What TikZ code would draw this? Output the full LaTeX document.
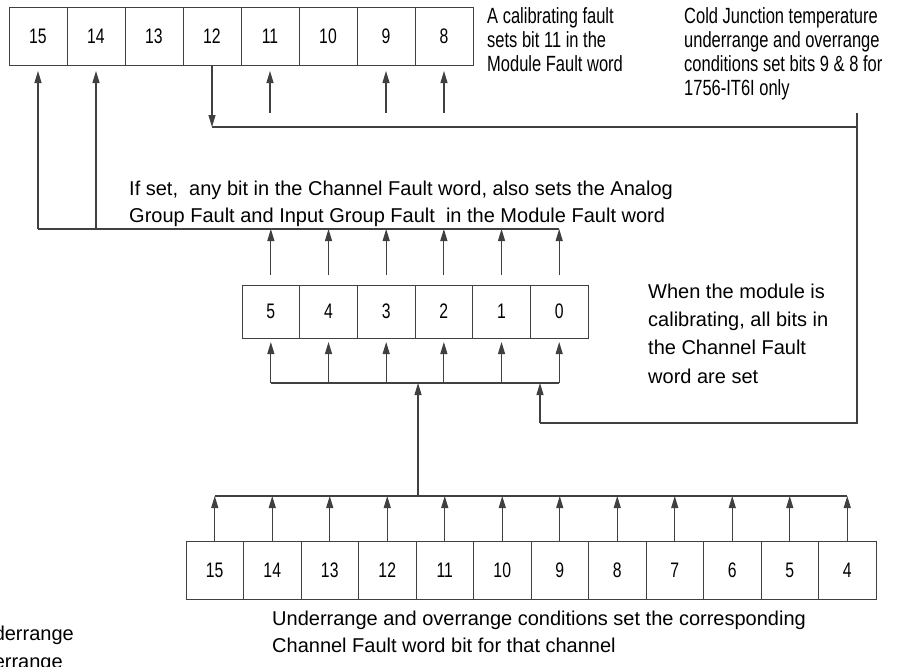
\documentclass[tikz,border=0pt]{standalone}
\usepackage{fontspec}
\setmainfont{Liberation Sans}
\newfontfamily\narrowfont{Liberation Sans}[FakeStretch=0.75]
\usetikzlibrary{arrows.meta, calc}

\begin{document}
\begin{tikzpicture}[
    x=1pt, y=-1pt,
    font=\fontsize{20}{27}\selectfont,
    line/.style={draw=black!75, line width=1.1pt},
    arr/.style={line, -{Triangle[length=12pt,width=7pt]}},
    cell/.style={rectangle, draw=black!75, line width=1pt, inner sep=0pt, outer sep=0pt, minimum width=58pt, minimum height=58pt, font=\narrowfont\fontsize{21}{24}\selectfont},
    midcell/.style={cell, minimum width=57.67pt, minimum height=53pt},
    botcell/.style={cell, minimum width=57.5pt},
    note/.style={anchor=north west, inner sep=0pt, align=left},
    topnote/.style={note, font=\narrowfont\fontsize{22}{24}\selectfont}
]
\useasboundingbox (0,0) rectangle (911,667);

% Module Fault word
\foreach \n [count=\k from 0] in {15,...,8}
    \node[cell] (t\n) at ({38+58*\k},36) {\n};
% Channel Fault word
\foreach \n [count=\k from 0] in {5,...,0}
    \node[midcell] (m\n) at ({270.85+57.67*\k},311.5) {\n};
% Channel Status word
\foreach \n [count=\k from 0] in {15,...,4}
    \node[botcell] (b\n) at ({214.75+57.5*\k},570) {\n};

% Bus levels
\coordinate (fbot) at (0,113);
\coordinate (cj) at (857,127);
\coordinate (tbus) at (0,229);
\coordinate (mbus) at (0,383);
\coordinate (calx) at (540,423);
\coordinate (bbus) at (0,496);

% Texts
\node[topnote] (calnote) at (487,7) {A calibrating fault\\sets bit 11 in the\\Module Fault word};
\node[topnote] (cjnote) at (684,7) {Cold Junction temperature\\underrange and overrange\\conditions set bits 9 \& 8 for\\1756-IT6I only};
\node[note] (grpnote) at (129,181) {If set,\ \ any bit in the Channel Fault word, also sets the Analog\\Group Fault and Input Group Fault\ \ in the Module Fault word};
\node[note, font=\fontsize{20}{28.3}\selectfont] (calbnote) at (648,283.5) {When the module is\\calibrating, all bits in\\the Channel Fault\\word are set};
\node[note] (rangenote) at (272,610.5) {Underrange and overrange conditions set the corresponding\\Channel Fault word bit for that channel};
\node[note, font=\fontsize{20}{28}\selectfont] (cutnote) at (-32,625.5) {Underrange\\Overrange};

% Upper arrows into Module Fault word
\foreach \n in {11,9,8}
    \draw[arr, shorten >=6pt] (t\n.south |- fbot) -- (t\n.south);
\foreach \n in {15,14}
    \draw[arr, shorten >=6pt] (t\n.south |- tbus) -- (t\n.south);
\draw[line] (t15.south |- tbus) -- (m0.north |- tbus);
\foreach \n in {5,...,0}
    \draw[arr, shorten <=10pt] (m\n.north) -- (m\n.north |- tbus);

% Cold junction / calibration path
\draw[arr] (t12.south) -- (t12.south |- cj);
\draw[line] (t12.south |- cj) -- (cj);
\draw[line] (cj |- fbot) -- (cj |- calx) -- (calx);
\draw[arr] (calx) -- (calx |- mbus);

% Channel Fault word inputs
\draw[line] (m5.south |- mbus) -- (m0.south |- mbus);
\foreach \n in {5,...,0}
    \draw[arr, shorten >=4pt] (m\n.south |- mbus) -- (m\n.south);
\draw[arr] ([xshift=3pt]m3.south east |- bbus) -- ([xshift=3pt]m3.south east |- mbus);

% Channel status inputs
\draw[line] (b15.north |- bbus) -- (b4.north |- bbus);
\foreach \n in {15,...,4}
    \draw[arr] (b\n.north) -- (b\n.north |- bbus);
\end{tikzpicture}
\end{document}
